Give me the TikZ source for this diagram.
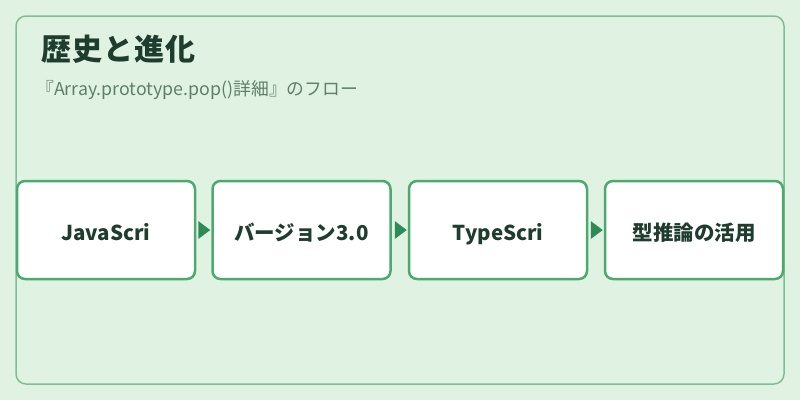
\documentclass[tikz,border=0pt]{standalone}
\usepackage{fontspec}
\setmainfont{Noto Sans CJK JP}
\usetikzlibrary{calc}
\definecolor{bgc}{HTML}{E0F2E1}
\definecolor{framec}{HTML}{7FBF96}
\definecolor{boxc}{HTML}{4CAA6E}
\definecolor{arrc}{HTML}{2E8B57}
\definecolor{txtc}{HTML}{1E3D2F}
\definecolor{subc}{HTML}{5F7F6A}
\tikzset{
  stepbox/.style={draw=boxc, line width=2.5pt, fill=white, rounded corners=8pt,
    minimum width=178pt, minimum height=98pt, inner sep=0pt,
    text height=20pt, text depth=0pt,
    font=\fontsize{20.5pt}{22pt}\selectfont\bfseries, text=txtc},
  flowtri/.style={fill=arrc}
}
\newcommand{\flowtriangle}[1]{\fill[flowtri] ($(#1.west)+(-1,0)$) -- ++(-12,-9) -- ++(0,18) -- cycle;}
\begin{document}
\begin{tikzpicture}[x=1pt,y=-1pt]
\fill[bgc] (0,0) rectangle (800,400);
\useasboundingbox (0,0) rectangle (800,400);
\draw[framec, line width=1.5pt, rounded corners=10pt] (16,16) rectangle (784,384);
\node[anchor=base west, inner sep=0pt, text=txtc, font=\fontsize{30pt}{32pt}\selectfont\bfseries\addfontfeature{LetterSpace=4.0}] (title) at (41,60) {歴史と進化};
\node[anchor=base west, inner sep=0pt, text=subc, font=\fontsize{17.8pt}{19pt}\selectfont] (sub) at (36,95) {『Array.prototype.pop()詳細』のフロー};
\node[stepbox] (b1) at (106,230) {JavaScri};
\node[stepbox] (b2) at (301.5,230) {バージョン3.0};
\node[stepbox] (b3) at (498,230) {TypeScri};
\node[stepbox] (b4) at (694,230) {型推論の活用};
\flowtriangle{b2}
\flowtriangle{b3}
\flowtriangle{b4}
\end{tikzpicture}
\end{document}
